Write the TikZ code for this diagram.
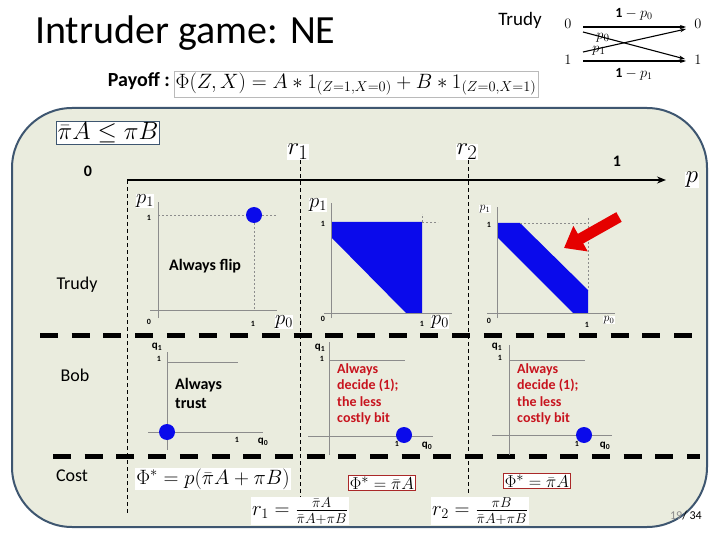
\documentclass[tikz,border=0pt]{standalone}
\usepackage{fontspec}
\setmainfont{Carlito}
\usetikzlibrary{arrows.meta}
\definecolor{panelbg}{RGB}{234,236,222}
\definecolor{panelbd}{RGB}{62,86,112}
\definecolor{ptblue}{RGB}{10,10,235}
\definecolor{txtred}{RGB}{200,20,30}
\definecolor{boxred}{RGB}{170,40,40}
\definecolor{axgray}{RGB}{140,140,140}
\tikzset{
  rowlbl/.style={font=\fontsize{18}{20}\selectfont, inner sep=0pt},
  endlbl/.style={font=\fontsize{16}{18}\selectfont\bfseries, inner sep=0pt},
  tick/.style={font=\fontsize{8}{9}\selectfont\bfseries, inner sep=0pt},
  qlbl/.style={font=\fontsize{11}{12}\selectfont\bfseries, inner sep=0pt},
  bigp/.style={font=\fontsize{20}{22}\selectfont, fill=white, inner sep=0.5pt},
  smallp/.style={font=\fontsize{12}{14}\selectfont, fill=white, inner sep=0.5pt},
  axis/.style={draw=axgray, line width=0.7pt},
  guide/.style={draw=axgray, line width=0.5pt, dash pattern=on 2pt off 2pt},
  vdash/.style={draw=black, line width=0.8pt, dash pattern=on 4pt off 3pt},
  hdash/.style={draw=black, line width=5pt, dash pattern=on 18pt off 13.7pt},
  dot/.style={circle, fill=ptblue, minimum size=16pt, inner sep=0pt},
  redtxt/.style={font=\fontsize{14}{16.5}\selectfont\bfseries, text=txtred, align=left, inner sep=0pt},
  chan/.style={-{Stealth[length=6pt,width=4pt]}, line width=1.1pt},
  chanlbl/.style={font=\fontsize{14}{16}\selectfont, inner sep=0pt},
  whitemath/.style={fill=white, inner sep=1pt},
  redbox/.style={draw=boxred, line width=0.9pt, fill=white, inner sep=1pt, font=\fontsize{19}{21}\selectfont},
}
\begin{document}
\begin{tikzpicture}[x=1pt,y=-1pt]
\useasboundingbox (0,0) rectangle (720,540);
\fill[white] (0,0) rectangle (720,540);

% title and channel
\node[anchor=west, font=\fontsize{40}{44}\selectfont, inner sep=0pt] (title) at (35,33) {Intruder game: NE};
\node[font=\fontsize{19}{21}\selectfont, inner sep=0pt] (trudytop) at (520,20) {Trudy};
\node[chanlbl] (c0l) at (568,24) {$0$};
\node[chanlbl] (c1l) at (568,60) {$1$};
\node[chanlbl] (c0r) at (698,24) {$0$};
\node[chanlbl] (c1r) at (698,60) {$1$};
\coordinate (a0s) at (583,27);
\coordinate (a0e) at (686,27);
\coordinate (a1s) at (583,61);
\coordinate (a1e) at (686,61);
\coordinate (x0s) at (583,32);
\coordinate (x0e) at (685,59);
\coordinate (x1s) at (583,52);
\coordinate (x1e) at (686,29);
\draw[chan] (a0s) -- (a0e);
\draw[chan] (a1s) -- (a1e);
\draw[chan] (x0s) -- (x0e);
\draw[chan] (x1s) -- (x1e);
\node[chanlbl] (l1mp0) at (634,14) {$\mathbf{1}-p_0$};
\node[chanlbl] (l1mp1) at (634,74) {$\mathbf{1}-p_1$};
\node[font=\fontsize{15}{16}\selectfont, inner sep=0pt] (lp0) at (603,38) {$p_0$};
\node[font=\fontsize{15}{16}\selectfont, inner sep=0pt] (lp1) at (599,51) {$p_1$};

% payoff
\node[anchor=east, font=\fontsize{20}{22}\selectfont\bfseries, inner sep=0pt] (payoff) at (170,81) {Payoff :};
\node[anchor=west, draw=axgray!60, fill=white, inner sep=1.5pt, font=\fontsize{21.5}{24}\selectfont] (payf) at (174,84)
  {$\Phi(Z,X) = A*1_{(Z=1,X=0)} + B*1_{(Z=0,X=1)}$};

% panel
\draw[draw=panelbd, line width=2pt, fill=panelbg, rounded corners=60pt] (12,108) rectangle (707,527);

% condition box
\node[draw=panelbd, line width=0.8pt, fill=white, inner sep=1pt, font=\fontsize{27}{29}\selectfont] (cond) at (108,133) {$\bar\pi A \leq \pi B$};

% p axis
\node[endlbl] (zero) at (88,171) {0};
\node[endlbl] (one) at (617,161) {1};
\node[font=\fontsize{44}{46}\selectfont, fill=white, inner sep=0.5pt] (paxis) at (692,180) {$p$};
\coordinate (pstart) at (127,180);
\coordinate (pend) at (666,180);
\draw[line width=1.8pt, -{Stealth[length=9pt,width=7pt]}] (pstart) -- (pend);

% thresholds
\node[font=\fontsize{32}{34}\selectfont, fill=white, inner sep=0.5pt] (r1) at (298,152) {$r_1$};
\node[font=\fontsize{32}{34}\selectfont, fill=white, inner sep=0.5pt] (r2) at (467,152) {$r_2$};
\coordinate (v0b) at (127,513);
\coordinate (v1b) at (300,497);
\coordinate (v2b) at (468,494);
\draw[vdash] (pstart) -- (v0b);
\draw[vdash] (r1.south -| v1b) -- (v1b);
\draw[vdash] (r2.south -| v2b) -- (v2b);

% row separators
\coordinate (s1a) at (40,335);
\coordinate (s1b) at (700,335);
\coordinate (s2a) at (53,456);
\coordinate (s2b) at (700,456);
\draw[hdash] (s1a) -- (s1b);
\draw[hdash] (s2a) -- (s2b);

% row labels
\node[rowlbl] (rtrudy) at (77,285) {Trudy};
\node[rowlbl] (rbob) at (75,375) {Bob};
\node[rowlbl] (rcost) at (72,476) {Cost};

% ---- Trudy plot 1
\draw[axis] (158,318) -- (158,202);
\draw[axis] (150,310) -- (277,310);
\draw[guide] (158,215) -- (277,215);
\draw[guide] (254,215) -- (254,310);
\node[dot] (d1) at (254,215) {};
\node[bigp] (p1a) at (145,201) {$p_1$};
\node[tick] (t1a) at (149,218) {1};
\node[tick] (t0a) at (149,322) {0};
\node[tick] (t1b) at (253,324) {1};
\node[bigp] (p0a) at (284,322) {$p_0$};
\node[anchor=west, font=\fontsize{16}{18}\selectfont\bfseries, inner sep=0pt] (flip) at (169,266) {Always flip};

% ---- Trudy plot 2
\fill[ptblue] (331,222) -- (422,222) -- (422,313) -- (406,313) -- (331,237) -- cycle;
\draw[axis] (331,318) -- (331,203);
\draw[axis] (324,313) -- (452,313);
\draw[guide] (422,222) -- (438,222);
\draw[guide] (422,222) -- (422,214);
\node[bigp] (p1b) at (318,205) {$p_1$};
\node[tick] (t1c) at (323,224) {1};
\node[tick] (t0b) at (323,319) {0};
\node[tick] (t1d) at (422,324) {1};
\node[bigp] (p0b) at (440,322) {$p_0$};

% ---- Trudy plot 3
\fill[ptblue] (497,223) -- (520,223) -- (588,290) -- (588,313) -- (573,313) -- (497,237) -- cycle;
\draw[axis] (497,318) -- (497,207);
\draw[axis] (487,313) -- (615,313);
\draw[guide] (520,223) -- (588,223);
\draw[guide] (588,218) -- (588,290);
\node[smallp] (p1c) at (485,209) {$p_1$};
\node[tick] (t1e) at (489,225) {1};
\node[tick] (t0c) at (489,321) {0};
\node[tick] (t1f) at (587,325) {1};
\node[smallp] (p0c) at (609,320) {$p_0$};
\coordinate (rtail) at (619,217);
\coordinate (rtip) at (564,248);
\draw[line width=11pt, draw=red!90!black, -{Triangle[length=19pt,width=28pt]}] (rtail) -- (rtip);

% ---- Bob plot 1
\draw[axis] (167,450) -- (167,352);
\draw[axis] (148,432) -- (263,432);
\draw[axis, line width=0.5pt] (167,362) -- (238,362);
\node[dot] (d2) at (167,432) {};
\node[qlbl] (q1a) at (157,347) {q\textsubscript{1}};
\node[tick] (t1g) at (159,359) {1};
\node[tick] (t1h) at (237,440) {1};
\node[qlbl] (q0a) at (263,442) {q\textsubscript{0}};
\node[anchor=north west, font=\fontsize{16}{19}\selectfont\bfseries, align=left, inner sep=0pt] (trust) at (175,378) {Always\\trust};

% ---- Bob plot 2
\draw[axis] (329,455) -- (329,342);
\draw[axis] (308,436) -- (433,436);
\draw[axis, line width=0.5pt] (329,360) -- (405,360);
\node[dot] (d3) at (404,435) {};
\node[qlbl] (q1b) at (320,348) {q\textsubscript{1}};
\node[tick] (t1i) at (322,359) {1};
\node[tick] (t1j) at (397,444) {1};
\node[qlbl] (q0b) at (427,446) {q\textsubscript{0}};
\node[redtxt, anchor=north west] (dec1) at (337,363) {Always\\decide (1);\\the less\\costly bit};

% ---- Bob plot 3
\draw[axis] (509,455) -- (509,345);
\draw[axis] (492,435) -- (612,435);
\draw[axis, line width=0.5pt] (509,360) -- (585,360);
\node[dot] (d4) at (584,435) {};
\node[qlbl] (q1c) at (497,347) {q\textsubscript{1}};
\node[tick] (t1k) at (500,358) {1};
\node[tick] (t1l) at (577,444) {1};
\node[qlbl] (q0c) at (605,446) {q\textsubscript{0}};
\node[redtxt, anchor=north west] (dec2) at (517,363) {Always\\decide (1);\\the less\\costly bit};

% ---- cost row
\node[whitemath, font=\fontsize{19.5}{21}\selectfont] (cost1) at (213,479) {$\Phi^{*} = p(\bar\pi A + \pi B)$};
\node[redbox] (cost2) at (382,483) {$\Phi^{*} = \bar\pi A$};
\node[redbox] (cost3) at (537,481) {$\Phi^{*} = \bar\pi A$};
\node[whitemath, font=\fontsize{19.5}{21}\selectfont] (r1f) at (300,511) {$r_1 = \frac{\bar\pi A}{\bar\pi A + \pi B}$};
\node[whitemath, font=\fontsize{19.5}{21}\selectfont] (r2f) at (480,511) {$r_2 = \frac{\pi B}{\bar\pi A + \pi B}$};
\node[anchor=east, font=\fontsize{12}{14}\selectfont, inner sep=0pt] (pg) at (702,516) {\textcolor{axgray}{19}/ 34};
\end{tikzpicture}
\end{document}
